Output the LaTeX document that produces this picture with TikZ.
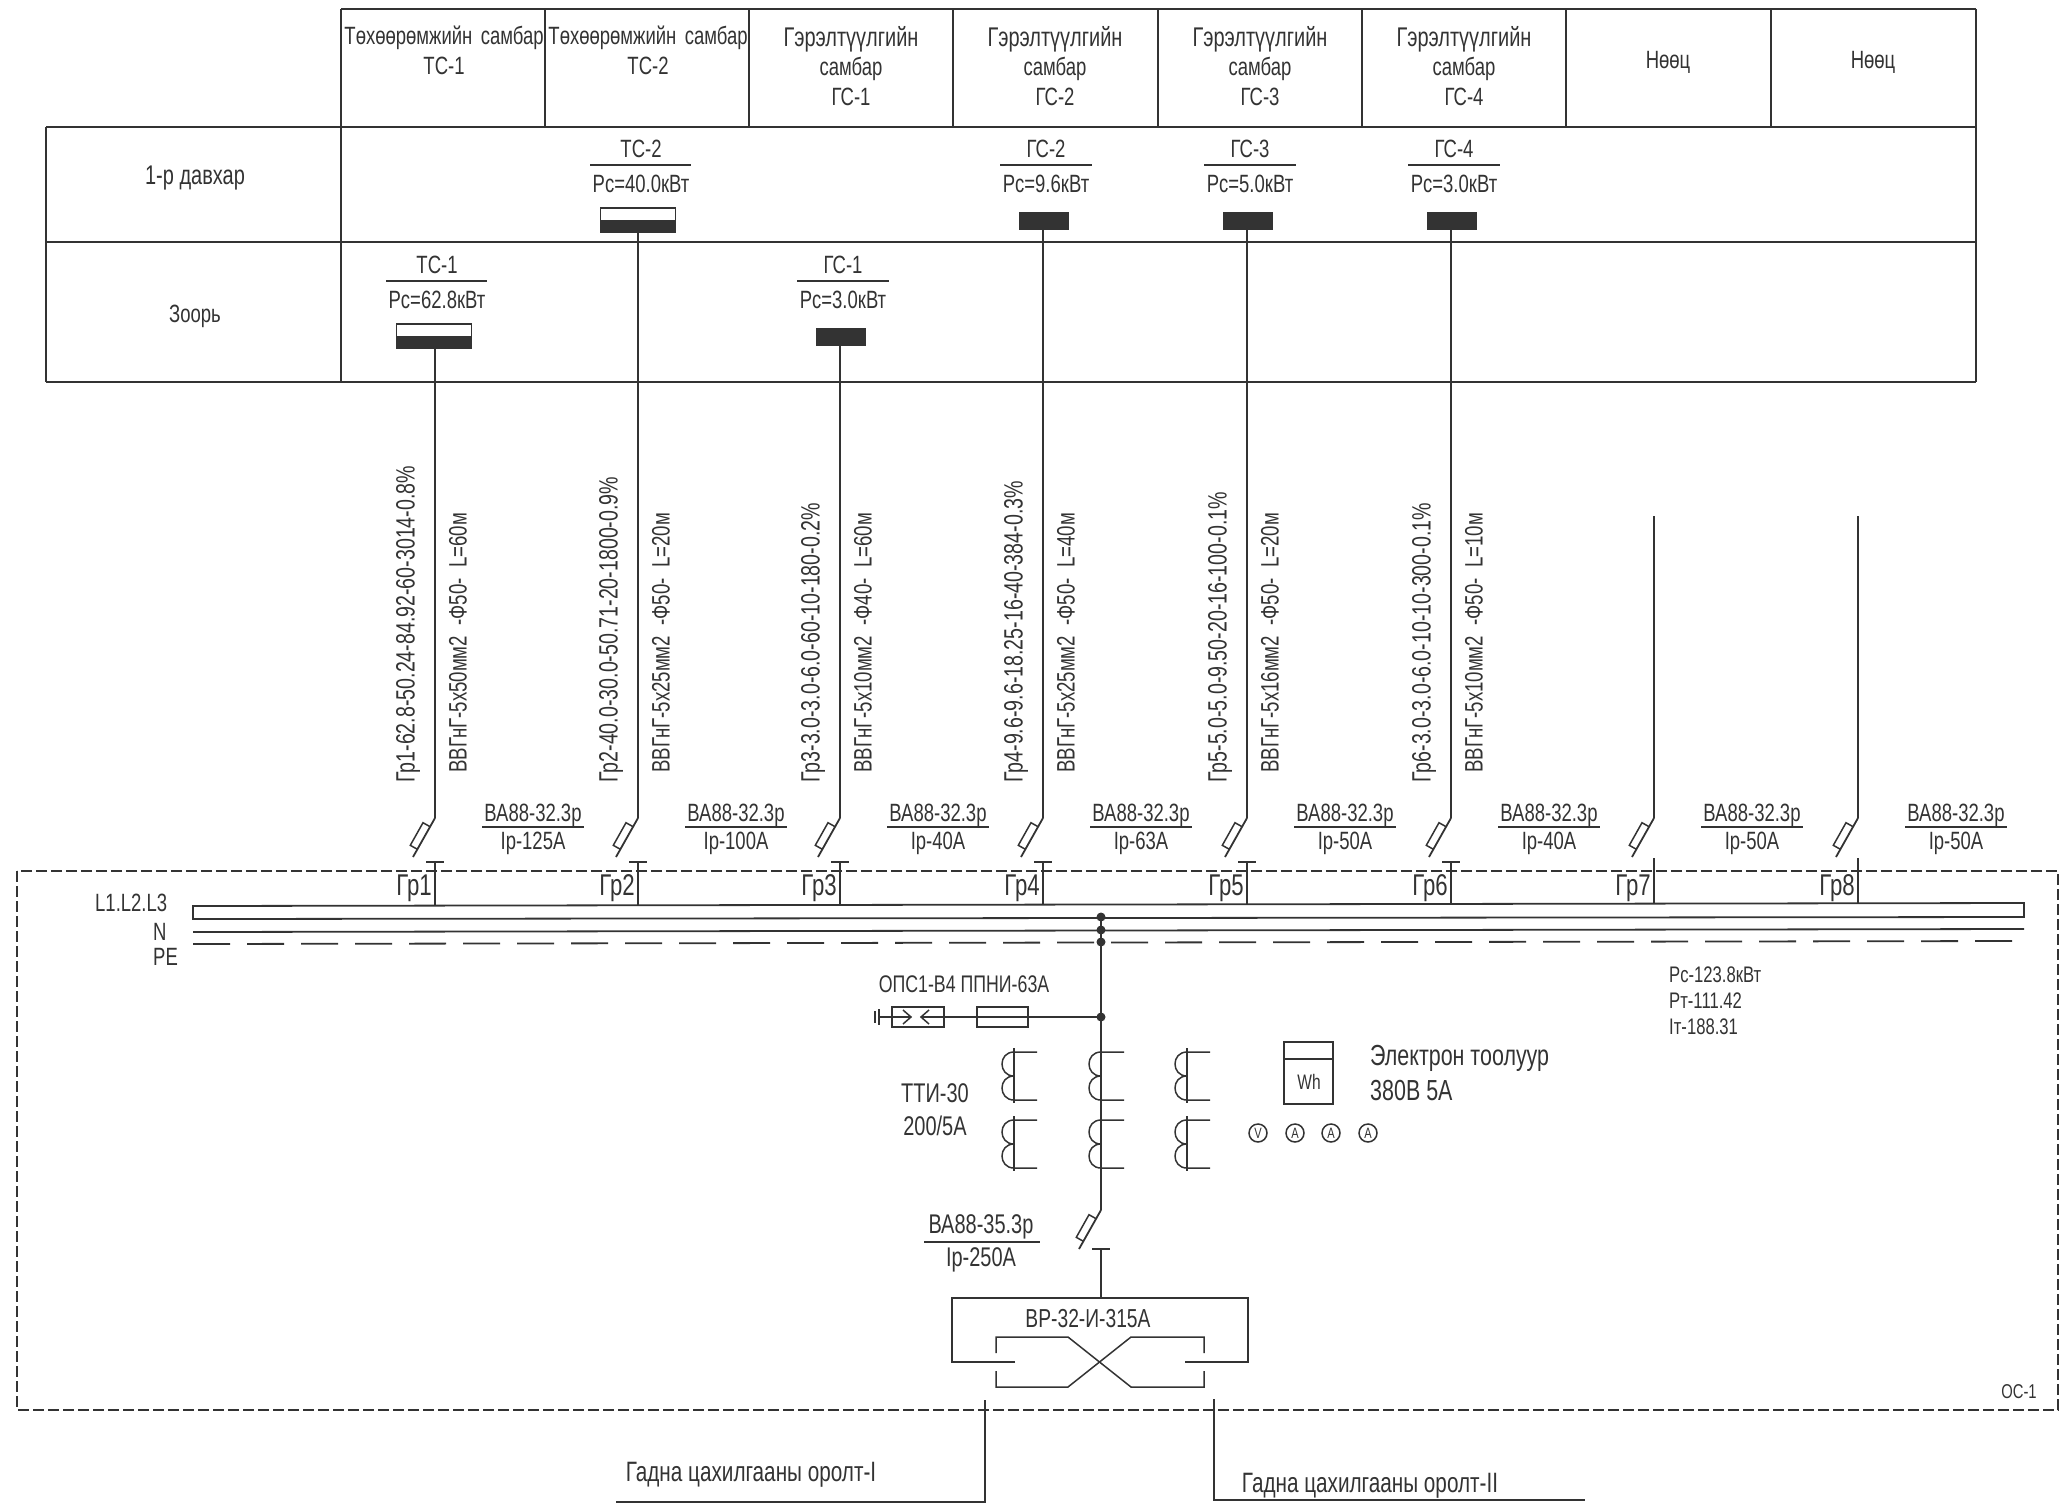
\documentclass[tikz,border=0pt]{standalone}
\usepackage{fontspec}
\setmainfont[FakeStretch=0.74]{Liberation Sans}
\definecolor{ink}{HTML}{333333}
\newcommand{\fsz}[1]{\fontsize{#1}{#1}\selectfont}
\tikzset{
  x=1pt,y=-1pt,
  wire/.style={draw=ink,line width=1.8pt},
  thin wire/.style={draw=ink,line width=1.5pt},
  frameline/.style={draw=ink,line width=1.8pt,dash pattern=on 11pt off 4pt},
  pedash/.style={draw=ink,line width=1.8pt,dash pattern=on 37pt off 17pt},
  lbl/.style={inner sep=0pt,text=ink,font=\fsz{25}},
  big/.style={inner sep=0pt,text=ink,font=\fsz{27}},
  bottomlbl/.style={inner sep=0pt,text=ink,font=\fsz{28}},
  vlbl/.style={inner sep=0pt,text=ink,font=\fsz{26.5},rotate=90,anchor=west},
  vlbb/.style={inner sep=0pt,text=ink,font=\fsz{25.2},rotate=90,anchor=west},
  gr/.style={inner sep=0pt,text=ink,font=\fsz{30},anchor=east},
  tiny/.style={inner sep=0pt,text=ink,font=\fsz{22.5},anchor=west},
  hdr/.style={inner sep=0pt,text=ink,font=\fsz{25},align=center,text width=205pt,execute at begin node=\setlength{\baselineskip}{29.5pt}},
  blackbox/.style={fill=ink,draw=ink,line width=1pt,inner sep=0pt},
  whitebox/.style={fill=white,draw=ink,line width=1.5pt,inner sep=0pt},
  meter/.style={circle,draw=ink,line width=1.5pt,minimum size=18pt,inner sep=0pt,text=ink,font=\fsz{15}},
}
% slanted blade of a breaker with a small rectangle on its left side
\newcommand{\blade}[1]{%
  \draw[wire] (#1) -- ++(-22,39);
  \draw[thin wire] (#1) ++(-4.9,8.7) -- ++(-7.1,-4) -- ++(-12.7,22.6) -- ++(7.1,4);
}
\newcommand{\panelwide}[5]{%
  \node[lbl] (#1t) at (#4+3,#5-16) {#2};
  \draw[wire] (#4-48,#5) -- (#4+53,#5);
  \node[lbl] (#1p) at (#4+3,#5+19) {#3};
  \node[whitebox,minimum width=75pt,minimum height=24pt] (#1) at (#4,#5+55) {};
  \fill[ink] (#1.west) rectangle (#1.south east);
}
\newcommand{\panelblack}[5]{%
  \node[lbl] (#1t) at (#4+3,#5-16) {#2};
  \draw[wire] (#4-43,#5) -- (#4+49,#5);
  \node[lbl] (#1p) at (#4+3,#5+19) {#3};
  \node[blackbox,minimum width=49pt,minimum height=17pt] (#1) at (#4+1,#5+56) {};
}
\newcommand{\coil}[3]{%
  \draw[thin wire] (#2,#3-4) -- (#2,#3+51);
  \draw[thin wire] (#2+23,#3) -- (#2,#3) .. controls (#2-16,#3) and (#2-16,#3+24) .. (#2,#3+24)
     .. controls (#2-16,#3+24) and (#2-16,#3+48) .. (#2,#3+48) -- (#2+23,#3+48);
  \coordinate (#1) at (#2,#3);
}
\newcommand{\gerel}{{\fsz{27}Гэрэлтүүлгийн}}
\begin{document}
\begin{tikzpicture}
\useasboundingbox (0,0) rectangle (2065,1505);
% ---- table
\draw[wire] (341,9) -- (1976,9);
\draw[wire] (46,127) -- (1976,127);
\draw[wire] (46,242) -- (1976,242);
\draw[wire] (46,382) -- (1976,382);
\draw[wire] (46,127) -- (46,382);
\draw[wire] (341,9) -- (341,382);
\draw[wire] (1976,9) -- (1976,382);
\foreach \x in {545,749,953,1158,1362,1566,1771}{\draw[wire] (\x,9) -- (\x,127);}
\node[hdr,anchor=north] (h1) at (444,26) {Төхөөрөмжийн самбар\\ТС-1};
\node[hdr,anchor=north] (h2) at (648,26) {Төхөөрөмжийн самбар\\ТС-2};
\node[hdr,anchor=north] (h3) at (851,26) {\gerel\\самбар\\ГС-1};
\node[hdr,anchor=north] (h4) at (1055,26) {\gerel\\самбар\\ГС-2};
\node[hdr,anchor=north] (h5) at (1260,26) {\gerel\\самбар\\ГС-3};
\node[hdr,anchor=north] (h6) at (1464,26) {\gerel\\самбар\\ГС-4};
\node[lbl] (h7) at (1668,62) {Нөөц};
\node[lbl] (h8) at (1873,62) {Нөөц};
\node[big] (r1) at (195,178) {1-р давхар};
\node[lbl] (r2) at (195,316) {Зоорь};
% ---- panels
\panelwide{p1}{ТС-1}{Рс=62.8кВт}{434}{281}{}
\panelwide{p2}{ТС-2}{Рс=40.0кВт}{638}{165}{}
\panelblack{p3}{ГС-1}{Рс=3.0кВт}{840}{281}{}
\panelblack{p4}{ГС-2}{Рс=9.6кВт}{1043}{165}{}
\panelblack{p5}{ГС-3}{Рс=5.0кВт}{1247}{165}{}
\panelblack{p6}{ГС-4}{Рс=3.0кВт}{1451}{165}{}
% ---- frame
\draw[frameline] (17,871) rectangle (2058,1410);
% ---- bus
\coordinate (busTL) at (193,906); \coordinate (busTR) at (2024,903);
\coordinate (busBR) at (2024,917); \coordinate (busBL) at (193,919);
\draw[wire] (busTL) -- (busTR) -- (busBR) -- (busBL) -- cycle;
\coordinate (nL) at (193,932); \coordinate (nR) at (2024,929);
\coordinate (peL) at (193,944); \coordinate (peR) at (2024,941);
\draw[wire] (nL) -- (nR);
\draw[pedash] (peL) -- (peR);
\node[lbl,anchor=west] (lL) at (95,903) {L1.L2.L3};
\node[lbl,anchor=west] (lN) at (153,932) {N};
\node[lbl,anchor=west] (lPE) at (153,957) {PE};
% ---- feeders 1-6
\foreach \i/\x/\a/\b/\c/\d/\ir in {
 1/435/Гр1-62.8-50.24-84.92-60-3014-0.8\%/5х50/Ф50/60/125,
 2/638/Гр2-40.0-30.0-50.71-20-1800-0.9\%/5х25/Ф50/20/100,
 3/840/Гр3-3.0-3.0-6.0-60-10-180-0.2\%/5х10/Ф40/60/40,
 4/1043/Гр4-9.6-9.6-18.25-16-40-384-0.3\%/5х25/Ф50/40/63,
 5/1247/Гр5-5.0-5.0-9.50-20-16-100-0.1\%/5х16/Ф50/20/50,
 6/1451/Гр6-3.0-3.0-6.0-10-10-300-0.1\%/5х10/Ф50/10/40}{
  \coordinate (k\i) at (\x,818);
  \draw[wire] (\x,0 |- p\i.south) -- (k\i);
  \blade{k\i}
  \coordinate (c\i) at (\x,862);
  \coordinate (b\i) at (\x,905);
  \draw[wire] (c\i) -- (b\i);
  \draw[wire] (\x-9,862) -- (\x+9,862);
  \node[vlbl] (va\i) at (\x-27,783) {\a};
  \node[vlbb] (vb\i) at (\x+23,773) {ВВГнГ-\b мм2\ \ -\c-\ \ L=\d м};
  \node[lbl] (bt\i) at (\x+98,815) {ВА88-32.3р};
  \draw[wire] (\x+47,827) -- (\x+149,827);
  \node[lbl] (bi\i) at (\x+98,843) {Iр-\ir А};
  \node[gr] (g\i) at (\x-3,888) {Гр\i};
}
% ---- spare feeders
\foreach \i/\x in {7/1654,8/1858}{
  \coordinate (top\i) at (\x,516);
  \coordinate (k\i) at (\x,818);
  \draw[wire] (top\i) -- (k\i);
  \blade{k\i}
  \coordinate (c\i) at (\x,858);
  \coordinate (b\i) at (\x,904);
  \draw[wire] (c\i) -- (b\i);
  \node[lbl] (bt\i) at (\x+98,815) {ВА88-32.3р};
  \draw[wire] (\x+47,827) -- (\x+149,827);
  \node[lbl] (bi\i) at (\x+98,843) {Iр-50А};
  \node[gr] (g\i) at (\x-3,888) {Гр\i};
}
% ---- main line
\coordinate (m0) at (1101,917);
\coordinate (m1) at (1101,930);
\coordinate (m2) at (1101,942);
\coordinate (m3) at (1101,1017);
\coordinate (m4) at (1101,1210);
\draw[wire] (m0) -- (m4);
\foreach \m in {m0,m1,m2,m3}{\fill[ink] (\m) circle (4.5pt);}
\blade{m4}
\coordinate (m5) at (1101,1249);
\draw[wire] (1092,1249) -- (1110,1249);
% ---- surge arrester / fuse
\node[inner sep=0pt,text=ink,font=\fsz{24}] (opslbl) at (964,984) {ОПС1-В4 ППНИ-63А};
\node[draw=ink,line width=1.5pt,minimum width=52pt,minimum height=20pt,inner sep=0pt] (ars) at (918,1017) {};
\node[draw=ink,line width=1.5pt,minimum width=51pt,minimum height=20pt,inner sep=0pt] (fus) at (1002.5,1017) {};
\coordinate (gnd) at (878,1017);
\draw[thin wire] (m3) -- (921,1017);
\draw[thin wire] (gnd) -- (911,1017);
\draw[thin wire] (903,1010) -- (911,1017) -- (903,1024);
\draw[thin wire] (929,1010) -- (921,1017) -- (929,1024);
\draw[wire] (879,1009) -- (879,1025);
\draw[wire] (875,1011) -- (875,1023);
% ---- current transformers
\coil{ca}{1014}{1052}
\coil{cb}{1101}{1052}
\coil{cc}{1187}{1052}
\coil{cd}{1014}{1120}
\coil{ce}{1101}{1120}
\coil{cf}{1187}{1120}
\node[big] (tti) at (935,1093) {ТТИ-30};
\node[big] (ttb) at (935,1126) {200/5А};
% ---- meter
\node[draw=ink,line width=1.5pt,minimum width=49pt,minimum height=62pt,inner sep=0pt] (wh) at (1308.5,1073) {};
\draw[thin wire] (1284,1059) -- (1333,1059);
\node[inner sep=0pt,text=ink,font=\fsz{21}] (whl) at (1309,1082) {Wh};
\node[meter] (mv) at (1258,1133) {V};
\node[meter] (ma) at (1295,1133) {A};
\node[meter] (mb) at (1331,1133) {A};
\node[meter] (mc) at (1368,1133) {A};
\node[inner sep=0pt,text=ink,font=\fsz{29},anchor=west] (el1) at (1370,1058) {Электрон тоолуур};
\node[inner sep=0pt,text=ink,font=\fsz{29},anchor=west] (el2) at (1370,1091) {380В 5А};
\node[tiny] (s1) at (1669,975) {Рс-123.8кВт};
\node[tiny] (s2) at (1669,1001) {Рт-111.42};
\node[tiny] (s3) at (1669,1027) {Iт-188.31};
% ---- main breaker label
\node[big] (mbt) at (981,1227) {ВА88-35.3р};
\draw[wire] (924,1242) -- (1040,1242);
\node[big] (mbi) at (981,1260) {Iр-250А};
% ---- input switch
\coordinate (swtop) at (1101,1298);
\draw[wire] (m5) -- (swtop);
\draw[wire] (1015,1362) -- (952,1362) -- (952,1298) -- (1248,1298) -- (1248,1362) -- (1185,1362);
\node[inner sep=0pt,text=ink,font=\fsz{26}] (swl) at (1088,1319) {ВР-32-И-315А};
\draw[thin wire] (996,1353) -- (996,1337) -- (1068,1337) -- (1131,1387) -- (1204,1387) -- (1204,1371);
\draw[thin wire] (996,1371) -- (996,1387) -- (1068,1387) -- (1131,1337) -- (1204,1337) -- (1204,1353);
\node[inner sep=0pt,text=ink,font=\fsz{20}] (os) at (2019,1392) {ОС-1};
% ---- inputs
\coordinate (i1a) at (985,1400); \coordinate (i1b) at (985,1502); \coordinate (i1c) at (616,1502);
\coordinate (i2a) at (1214,1399); \coordinate (i2b) at (1214,1500); \coordinate (i2c) at (1585,1500);
\draw[wire] (i1a) -- (i1b) -- (i1c);
\draw[wire] (i2a) -- (i2b) -- (i2c);
\node[bottomlbl] (in1) at (751,1475) {Гадна цахилгааны оролт-I};
\node[bottomlbl] (in2) at (1370,1486) {Гадна цахилгааны оролт-II};
\end{tikzpicture}
\end{document}
